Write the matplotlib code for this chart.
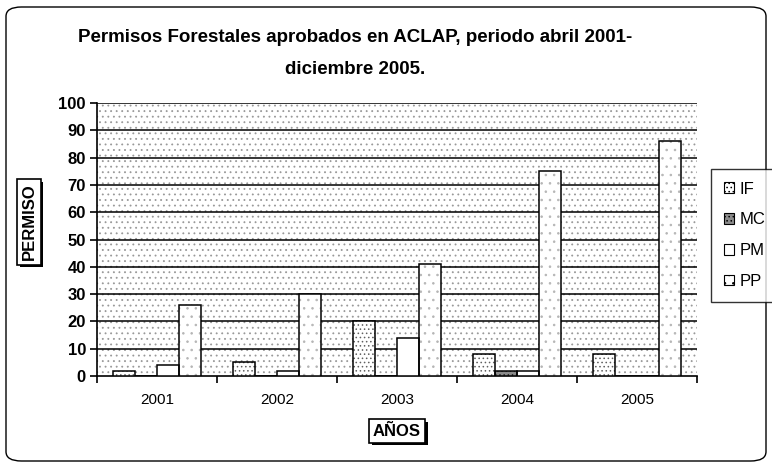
import numpy as np
import matplotlib
matplotlib.use("Agg")
import matplotlib.pyplot as plt
from matplotlib.patches import Rectangle, FancyBboxPatch
import matplotlib.patheffects as pe

# === Data ===
years = ["2001", "2002", "2003", "2004", "2005"]
series = ["IF", "MC", "PM", "PP"]
IF = [2, 5, 20, 8, 8]
MC = [0, 0, 0, 2, 0]
PM = [4, 2, 14, 2, 0]
PP = [26, 30, 41, 75, 86]
y_ticks = list(range(0, 101, 10))

plt.rcParams['font.family'] = ['Liberation Sans', 'DejaVu Sans']
plt.rcParams['hatch.linewidth'] = 0.6

fig = plt.figure(figsize=(7.72, 4.66), dpi=100)
ax = fig.add_axes([97 / 772, 90 / 466, 600 / 772, 273 / 466])

# stippled plot-area background
ax.set_facecolor("white")
ax.add_patch(Rectangle((0, 0), 1, 1, transform=ax.transAxes, facecolor="white",
                       edgecolor="#999999", hatch="...", linewidth=0, zorder=0))

# horizontal gridlines
for v in y_ticks[1:]:
    ax.axhline(v, color="black", linewidth=1.1, zorder=1)

x = np.arange(len(years))
w = 0.183
# fill pattern per series: (face, hatch colour, hatch)
fills = [
    ("white", "#606060", "...."),   # IF
    ("#8a8a8a", "#202020", "...."),  # MC
    ("white", "white", None),        # PM
    ("white", "#b5b5b5", ".."),     # PP
]
handles = []
for i, (vals, name, (fc, hc, ht)) in enumerate(zip([IF, MC, PM, PP], series, fills)):
    xs = x + (i - 1.5) * w
    ax.bar(xs, vals, width=w, facecolor=fc, edgecolor=hc, hatch=ht, linewidth=0, zorder=3)
    ax.bar(xs, vals, width=w, facecolor="none", edgecolor="black", linewidth=1.1, zorder=4)
    handles.append(Rectangle((0, 0), 1, 1, facecolor=fc, edgecolor="black", hatch=ht, linewidth=0.8))

ax.set_xlim(-0.5, len(years) - 0.5)
ax.set_ylim(0, 100)

# ticks: boundaries marked, labels centred
ax.set_xticks(np.arange(-0.5, len(years), 1.0))
ax.set_xticklabels([])
ax.set_xticks(x, minor=True)
ax.set_xticklabels(years, minor=True, fontsize=11)
ax.tick_params(axis="x", which="major", direction="out", length=5, width=1.2)
ax.tick_params(axis="x", which="minor", length=0, pad=12)
ax.set_yticks(y_ticks)
ax.set_yticklabels([str(v) for v in y_ticks], fontsize=12, fontweight="bold")
ax.tick_params(axis="y", direction="out", length=5, width=1.2, pad=3)

for s in ["top", "right"]:
    ax.spines[s].set_visible(False)
ax.spines["left"].set_linewidth(1.2)
ax.spines["bottom"].set_linewidth(1.2)

# title
fig.text(355 / 772, 1 - 38 / 466, "Permisos Forestales aprobados en ACLAP, periodo abril 2001-",
         ha="center", va="center", fontsize=13.5, fontweight="bold")
fig.text(355 / 772, 1 - 70 / 466, "diciembre 2005.",
         ha="center", va="center", fontsize=13.5, fontweight="bold")

# boxed axis labels with shadow
def boxed(xp, yp, s, rot):
    t = fig.text(xp, yp, s, ha="center", va="center", rotation=rot, fontsize=12,
                 fontweight="bold",
                 bbox=dict(boxstyle="square,pad=0.25", facecolor="white", edgecolor="black", linewidth=1.2))
    t.get_bbox_patch().set_path_effects([
        pe.SimplePatchShadow(offset=(2, -2), shadow_rgbFace="black", alpha=1), pe.Normal()])
    return t

boxed(29 / 772, 1 - 222 / 466, "PERMISO", 90)
boxed(397 / 772, 1 - 431 / 466, "AÑOS", 0)

# legend, its frame runs off the right edge
leg = fig.legend(handles=handles, labels=series, loc="upper left",
                 bbox_to_anchor=(711 / 772, 1 - 169 / 466), fontsize=12, frameon=True,
                 fancybox=False, handlelength=0.6, handleheight=0.6, handletextpad=0.35,
                 labelspacing=0.95, borderpad=0.75, borderaxespad=0)
leg.get_frame().set_edgecolor("black")
leg.get_frame().set_linewidth(1.0)

# rounded outer border
fig.patches.append(FancyBboxPatch((6 / 772, 5 / 466), 760 / 772, 454 / 466,
                                  boxstyle="round,pad=0,rounding_size=0.02",
                                  transform=fig.transFigure, facecolor="none",
                                  edgecolor="black", linewidth=1.0))

fig.savefig("out.png", dpi=100)
